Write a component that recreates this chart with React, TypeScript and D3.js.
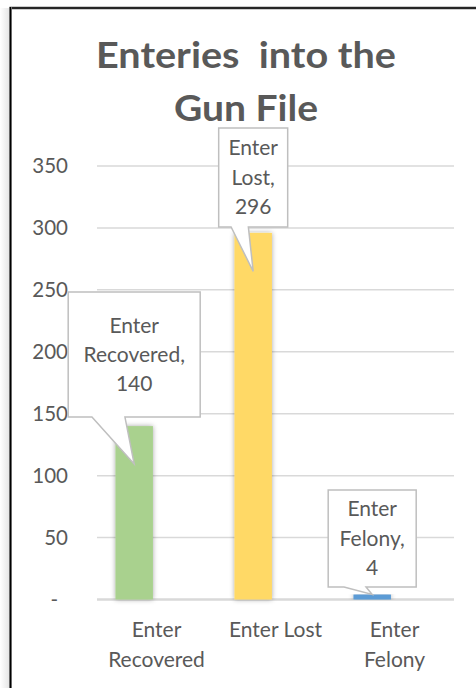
import React from "react";
import * as d3 from "d3";

const categories = ["Enter Recovered", "Enter Lost", "Enter Felony"];
const values = [140, 296, 4];
const barColors = ["#A9D18E", "#FFD966", "#5B9BD5"];
const yTicks = [0, 50, 100, 150, 200, 250, 300, 350];
const titleLines = ["Enteries  into the", "Gun File"];

// callout layout (sizes only)
const calloutW = [132, 69, 88];
const calloutH = [125, 99, 97];
const calloutGap = [47, 44.5, 7.6];
const tipDrop = [38, 38.5, 0];
const titleWidths = [300, 144];

const W = 476;
const H = 688;
const FONT = "Lato, 'Open Sans', sans-serif";
const TXT = "#595959";

export default function App() {
  const x = d3.scaleBand<string>().domain(categories).range([97, 454]).padding(0);
  const bw = x.bandwidth();
  const xSub = d3
    .scaleBand<string>()
    .domain(["value", "blank"])
    .range([bw * 0.155, bw * 0.785])
    .padding(0);
  const y = d3.scaleLinear().domain([0, 350]).range([599.5, 166]);

  const wrap = (s: string) => (s.length > 10 ? s.split(" ") : [s]);

  return (
    <svg
      width={W}
      height={H}
      style={{ position: "absolute", left: 0, top: 0, background: "#fff" }}
    >
      <defs>
        <filter id="barShadow" x="-50%" y="-10%" width="200%" height="120%">
          <feDropShadow dx="0" dy="0" stdDeviation="2.5" floodColor="#000" floodOpacity="0.35" />
        </filter>
        <linearGradient id="leftShade" x1="0" x2="1" y1="0" y2="0">
          <stop offset="0" stopColor="#fff" />
          <stop offset="1" stopColor="#e6e6e6" />
        </linearGradient>
      </defs>
      <rect x={0} y={0} width={W} height={H} fill="#fff" />
      <rect x={0} y={8} width={9} height={H - 8} fill="url(#leftShade)" />
      {/* border */}
      <line x1={9.5} x2={W} y1={8} y2={8} stroke="#999" strokeWidth={3} />
      <line x1={9.5} x2={W} y1={8} y2={8} stroke="#000" strokeWidth={1.6} />
      <line x1={10.5} x2={10.5} y1={7} y2={H} stroke="#999" strokeWidth={3} />
      <line x1={10.5} x2={10.5} y1={7} y2={H} stroke="#000" strokeWidth={1.6} />

      {/* title */}
      {titleLines.map((t, i) => (
        <text
          key={t}
          x={246}
          y={68 + i * 52.5}
          textAnchor="middle"
          fontFamily={FONT}
          fontWeight="bold"
          fontSize={36}
          fill={TXT}
          textLength={titleWidths[i]}
          lengthAdjust="spacingAndGlyphs"
          style={{ whiteSpace: "pre" }}
        >
          {t}
        </text>
      ))}

      {/* gridlines */}
      {yTicks.map((t) => (
        <line
          key={t}
          x1={97}
          x2={454}
          y1={y(t)}
          y2={y(t)}
          stroke="#d9d9d9"
          strokeWidth={t === 0 ? 2.5 : 1.5}
        />
      ))}
      {/* y tick labels */}
      {yTicks.map((t) => (
        <text
          key={"l" + t}
          x={t === 0 ? 58 : 68}
          y={y(t)}
          dy="0.35em"
          textAnchor="end"
          fontFamily={FONT}
          fontSize={20.5}
          fill={TXT}
        >
          {t === 0 ? "-" : d3.format("d")(t)}
        </text>
      ))}

      {/* bars */}
      {categories.map((c, i) => (
        <rect
          key={c}
          x={(x(c) as number) + (xSub("value") as number)}
          y={y(values[i])}
          width={xSub.bandwidth()}
          height={y(0) - y(values[i])}
          fill={barColors[i]}
          filter="url(#barShadow)"
        />
      ))}

      {/* category labels */}
      {categories.map((c) => {
        const lines = wrap(c);
        return (
          <text
            key={"c" + c}
            textAnchor="middle"
            fontFamily={FONT}
            fontSize={21}
            fill={TXT}
          >
            {lines.map((ln, j) => (
              <tspan key={j} x={(x(c) as number) + bw / 2} y={637 + j * 29.5}>
                {ln}
              </tspan>
            ))}
          </text>
        );
      })}

      {/* callouts */}
      {categories.map((c, i) => {
        const cx = (x(c) as number) + (xSub("value") as number) + xSub.bandwidth() / 2;
        const tipY = y(values[i]) + tipDrop[i];
        const w = calloutW[i];
        const h = calloutH[i];
        const bottom = tipY - calloutGap[i];
        const top = bottom - h;
        const left = cx - w / 2;
        const right = cx + w / 2;
        const b1 = cx - 0.32 * w;
        const b2 = cx - 0.07 * w;
        const path = `M${left},${top} L${right},${top} L${right},${bottom} L${b2},${bottom} L${cx},${tipY} L${b1},${bottom} L${left},${bottom} Z`;
        const words = c.split(" ");
        const lines = [...words.slice(0, -1), words[words.length - 1] + ",", String(values[i])];
        const midY = (top + bottom) / 2;
        return (
          <g key={"co" + c}>
            <path d={path} fill="#fff" stroke="#bfbfbf" strokeWidth={1.5} strokeLinejoin="miter" />
            <text textAnchor="middle" fontFamily={FONT} fontSize={21} fill={TXT}>
              {lines.map((ln, j) => (
                <tspan
                  key={j}
                  x={cx}
                  y={midY + (j - (lines.length - 1) / 2) * 29.3}
                  dy="0.35em"
                >
                  {ln}
                </tspan>
              ))}
            </text>
          </g>
        );
      })}
    </svg>
  );
}
